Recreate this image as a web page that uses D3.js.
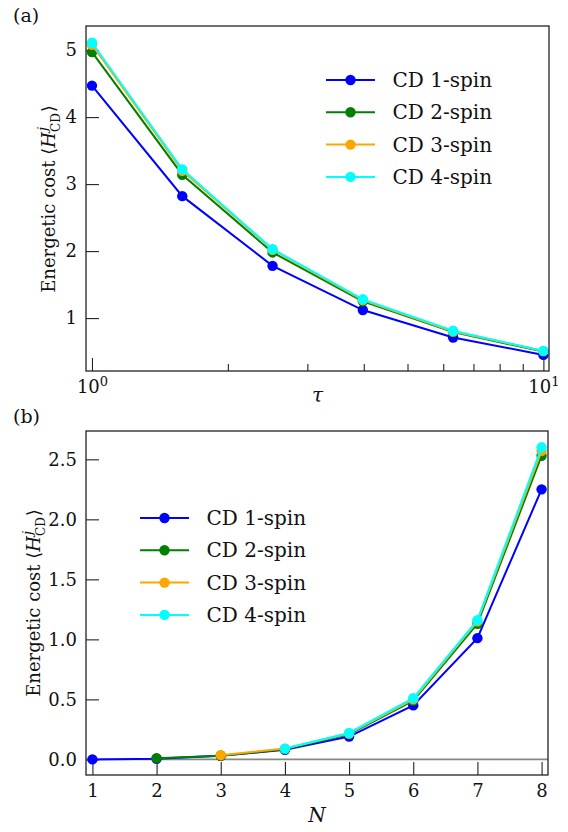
<!DOCTYPE html>
<html><head><meta charset="utf-8">
<script src="https://cdn.jsdelivr.net/npm/d3@7"></script>
<style>
body{margin:0;background:#fff}
svg{display:block}
svg text{font-family:"DejaVu Serif",serif;fill:#111}
</style>
</head><body><svg id="c" width="568" height="832"></svg>
<script>
// ---------- data ----------
const seriesNames = ["CD 1-spin", "CD 2-spin", "CD 3-spin", "CD 4-spin"];
const seriesColors = ["#0000ff", "#008000", "#ffa500", "#00ffff"];

// panel (a): energetic cost vs tau
const tauValues = [1, 1.585, 2.512, 3.981, 6.310, 10];
const costTau1 = [4.47, 2.82, 1.78, 1.12, 0.71, 0.45];
const costTau2 = [4.97, 3.14, 1.98, 1.25, 0.79, 0.50];
const costTau3 = [5.08, 3.20, 2.02, 1.27, 0.80, 0.51];
const costTau4 = [5.11, 3.22, 2.03, 1.28, 0.81, 0.51];

// panel (b): energetic cost vs N
const nValues = [1, 2, 3, 4, 5, 6, 7, 8];
const costN1 = [0.0, 0.005, 0.03, 0.08, 0.19, 0.45, 1.01, 2.25];
const costN2 = [null, 0.01, 0.03, 0.085, 0.21, 0.49, 1.13, 2.53];
const costN3 = [null, null, 0.035, 0.09, 0.215, 0.50, 1.15, 2.57];
const costN4 = [null, null, null, 0.09, 0.22, 0.51, 1.16, 2.60];

// ticks
const tauMajorTicks = [1, 10];
const tauMajorLabels = [["10", "0"], ["10", "1"]];
const tauMinorTicks = [2, 3, 4, 5, 6, 7, 8, 9];
const panelAYTicks = [1, 2, 3, 4, 5];
const panelBXTicks = [1, 2, 3, 4, 5, 6, 7, 8];
const panelBYTicks = [0, 0.5, 1.0, 1.5, 2.0, 2.5];

// ---------- drawing ----------
const FONT = '"DejaVu Serif", serif';
const svg = d3.select("#c");
svg.append("rect").attr("width", 568).attr("height", 832).attr("fill", "#fff");

const TICK_FS = 18, LEG_FS = 20;

function styleAxis(g) {
  g.attr("font-family", FONT);
  g.select(".domain").remove();
  g.selectAll(".tick line").attr("stroke", "#222").attr("stroke-width", 1.1);
  g.selectAll(".tick text").style("font-size", TICK_FS + "px").attr("fill", "#111")
    .style("font-family", FONT);
}

function frame(x0, y0, x1, y1) {
  svg.append("rect").attr("x", x0).attr("y", y0).attr("width", x1 - x0).attr("height", y1 - y0)
    .attr("fill", "none").attr("stroke", "#222").attr("stroke-width", 1.3);
}

function yLabel(x, y) {
  const t = svg.append("text").attr("transform", `translate(${x},${y}) rotate(-90)`)
    .attr("text-anchor", "middle").style("font-size", "18px").style("font-family", FONT);
  t.append("tspan").text("Energetic cost \u27E8");
  t.append("tspan").style("font-style", "italic").text("H");
  t.append("tspan").style("font-style", "italic").style("font-size", "13px").attr("dy", -8).attr("dx", 1).text("j");
  t.append("tspan").style("font-size", "12px").attr("dx", -5).attr("dy", 13).text("CD");
  t.append("tspan").attr("dy", -5).attr("dx", 1).text("\u27E9");
}

function drawSeries(g, xs, ys, x, y, color) {
  const pts = xs.map((v, i) => [v, ys[i]]).filter(d => d[1] !== null);
  const line = d3.line().x(d => x(d[0])).y(d => y(d[1]));
  g.append("path").datum(pts).attr("d", line).attr("fill", "none")
    .attr("stroke", color).attr("stroke-width", 2);
  g.selectAll(null).data(pts).enter().append("circle")
    .attr("cx", d => x(d[0])).attr("cy", d => y(d[1])).attr("r", 5.2).attr("fill", color);
}

function legend(x0, y0) {
  const lg = svg.append("g").attr("transform", `translate(${x0},${y0})`);
  seriesNames.forEach((name, i) => {
    const row = lg.append("g").attr("transform", `translate(0,${i * 32.3})`);
    row.append("line").attr("x1", 0).attr("x2", 49).attr("y1", 0).attr("y2", 0)
      .attr("stroke", seriesColors[i]).attr("stroke-width", 2);
    row.append("circle").attr("cx", 24.5).attr("cy", 0).attr("r", 5.2).attr("fill", seriesColors[i]);
    row.append("text").attr("x", 66.5).attr("y", 7).style("font-size", LEG_FS + "px")
      .style("font-family", FONT).text(name);
  });
}

// ----- panel (a) -----
(function () {
  const L = 86, R = 549, T = 26, B = 371;
  const x = d3.scaleLog().domain([0.970, 10.29]).range([L, R]);
  const y = d3.scaleLinear().domain([0.21, 5.36]).range([B, T]);

  const gx = svg.append("g").attr("transform", `translate(0,${B})`)
    .call(d3.axisBottom(x).tickValues(tauMajorTicks).tickSize(-13).tickPadding(9).tickFormat(() => ""));
  styleAxis(gx);
  gx.selectAll(".tick text").each(function (d, i) {
    const t = d3.select(this);
    t.text(tauMajorLabels[i][0]);
    t.append("tspan").attr("dy", "-0.55em").style("font-size", "13px").text(tauMajorLabels[i][1]);
  });
  const gxm = svg.append("g").attr("transform", `translate(0,${B})`)
    .call(d3.axisBottom(x).tickValues(tauMinorTicks).tickSize(-7).tickFormat(() => ""));
  styleAxis(gxm);

  const gy = svg.append("g").attr("transform", `translate(${L},0)`)
    .call(d3.axisLeft(y).tickValues(panelAYTicks).tickSize(-13).tickPadding(9).tickFormat(d3.format("d")));
  styleAxis(gy);

  const series = [costTau1, costTau2, costTau3, costTau4];
  const g = svg.append("g");
  series.forEach((s, i) => drawSeries(g, tauValues, s, x, y, seriesColors[i]));
  frame(L, T, R, B);

  legend(326, 80);
  yLabel(55, 199);
  svg.append("text").attr("x", (L + R) / 2).attr("y", 402).attr("text-anchor", "middle")
    .style("font-size", "20px").style("font-style", "italic").style("font-family", FONT).text("\u03C4");
  svg.append("text").attr("x", 13).attr("y", 22).style("font-size", "19px").style("font-family", FONT).text("(a)");
})();

// ----- panel (b) -----
(function () {
  const L = 86, R = 548, T = 431, B = 775;
  const x = d3.scaleLinear().domain([0.9, 8.1]).range([L, R]);
  const y = d3.scaleLinear().domain([-0.13, 2.736]).range([B, T]);

  const gx = svg.append("g").attr("transform", `translate(0,${B})`)
    .call(d3.axisBottom(x).tickValues(panelBXTicks).tickSize(-13).tickPadding(9).tickFormat(d3.format("d")));
  styleAxis(gx);
  const gy = svg.append("g").attr("transform", `translate(${L},0)`)
    .call(d3.axisLeft(y).tickValues(panelBYTicks).tickSize(-13).tickPadding(9).tickFormat(d3.format(".1f")));
  styleAxis(gy);

  svg.append("line").attr("x1", L).attr("x2", R).attr("y1", y(0)).attr("y2", y(0))
    .attr("stroke", "#888").attr("stroke-width", 1.8);

  const series = [costN1, costN2, costN3, costN4];
  const g = svg.append("g");
  series.forEach((s, i) => drawSeries(g, nValues, s, x, y, seriesColors[i]));
  frame(L, T, R, B);

  legend(140, 518);
  yLabel(40, 603);
  svg.append("text").attr("x", (L + R) / 2).attr("y", 822).attr("text-anchor", "middle")
    .style("font-size", "20px").style("font-style", "italic").style("font-family", FONT).text("N");
  svg.append("text").attr("x", 13).attr("y", 423).style("font-size", "19px").style("font-family", FONT).text("(b)");
})();
</script>
</body></html>
